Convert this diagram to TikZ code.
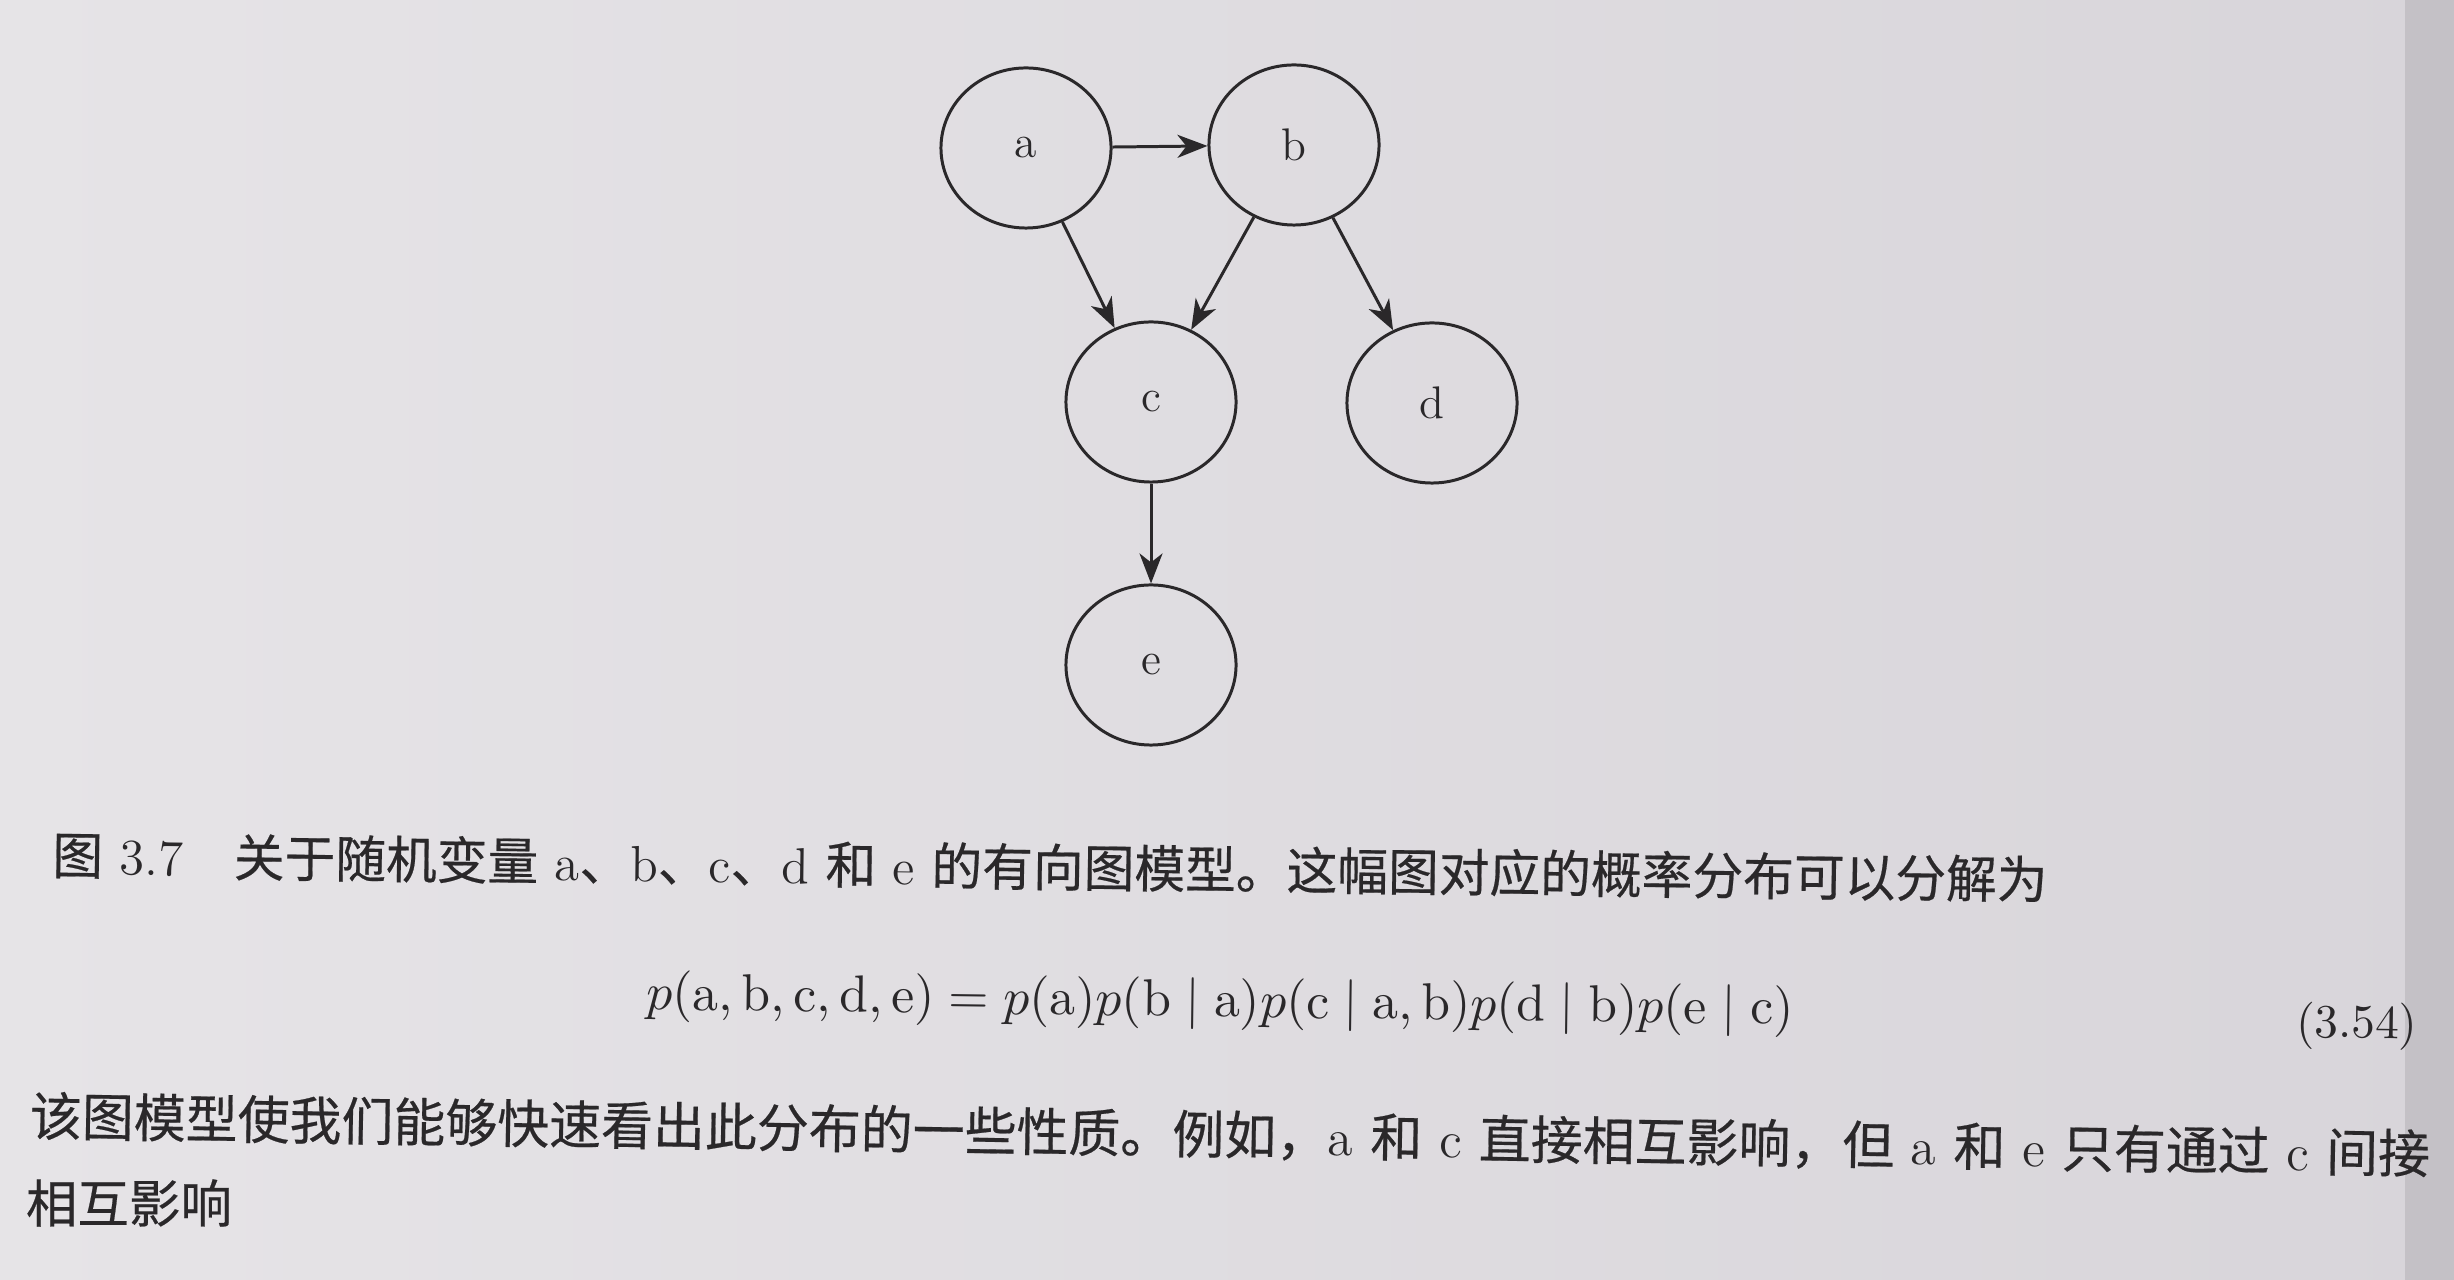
\documentclass[tikz,border=0pt]{standalone}
\usepackage{fontspec}
\usepackage{graphicx}
\newfontfamily\cjk{Noto Sans CJK SC}[FakeBold=0.4]
\usetikzlibrary{arrows.meta,shapes.geometric}
\definecolor{paperL}{HTML}{E6E4E7}
\definecolor{paperR}{HTML}{D8D5DA}
\definecolor{pageedge}{HTML}{C4C1C6}
\definecolor{ink}{HTML}{2A282A}
\begin{document}
\begin{tikzpicture}[x=0.01cm,y=-0.01cm,
  var/.style={ellipse, draw=ink, line width=0.85pt, minimum width=1.70cm, minimum height=1.60cm,
    inner sep=0pt, text=ink, font=\fontsize{13}{13}\selectfont},
  link/.style={draw=ink, line width=0.85pt, -{Stealth[length=3mm,width=2.3mm,inset=0.9mm]}},
  txt/.style={inner sep=0pt, text=ink}]
\useasboundingbox (0,0) rectangle (2454,1280);
\shade[left color=paperL, right color=paperR] (0,0) rectangle (2454,1280);
\fill[pageedge] (2405,0) rectangle (2454,1280);

% graph
\node[var] (a) at (1026,148) {a};
\node[var] (b) at (1294,145) {b};
\node[var] (c) at (1151,402) {c};
\node[var] (d) at (1432,403) {d};
\node[var] (e) at (1151,665) {e};
\draw[link] (a) -- (b);
\draw[link] (a) -- (c);
\draw[link] (b) -- (c);
\draw[link] (b) -- (d);
\draw[link] (c) -- (e);

% caption
\node[txt, rotate=-0.7] (cap) at (1050,867) {\resizebox{19.94cm}{!}{\fontsize{14}{14}\selectfont
  {\cjk 图} 3.7\quad {\cjk 关于随机变量} a{\cjk 、}b{\cjk 、}c{\cjk 、}d {\cjk 和} e {\cjk 的有向图模型。这幅图对应的概率分布可以分解为}}};

% equation
\node[txt, rotate=-0.75] (eq) at (1220,1004) {\resizebox{11.46cm}{!}{$p(\mathrm{a},\mathrm{b},\mathrm{c},\mathrm{d},\mathrm{e}) = p(\mathrm{a})p(\mathrm{b}\mid\mathrm{a})p(\mathrm{c}\mid\mathrm{a},\mathrm{b})p(\mathrm{d}\mid\mathrm{b})p(\mathrm{e}\mid\mathrm{c})$}};
\node[txt, rotate=-0.75] (eqno) at (2357,1026) {\resizebox{1.21cm}{!}{(3.54)}};

% paragraph
\node[txt, rotate=-0.9] (p1) at (1230,1135) {\resizebox{23.99cm}{!}{\fontsize{14}{14}\selectfont
  {\cjk 该图模型使我们能够快速看出此分布的一些性质。例如，}a {\cjk 和} c {\cjk 直接相互影响，但} a {\cjk 和} e {\cjk 只有通过} c {\cjk 间接}}};
\node[txt] (p2) at (129,1203) {\resizebox{2.06cm}{!}{\cjk 相互影响}};
\end{tikzpicture}
\end{document}
